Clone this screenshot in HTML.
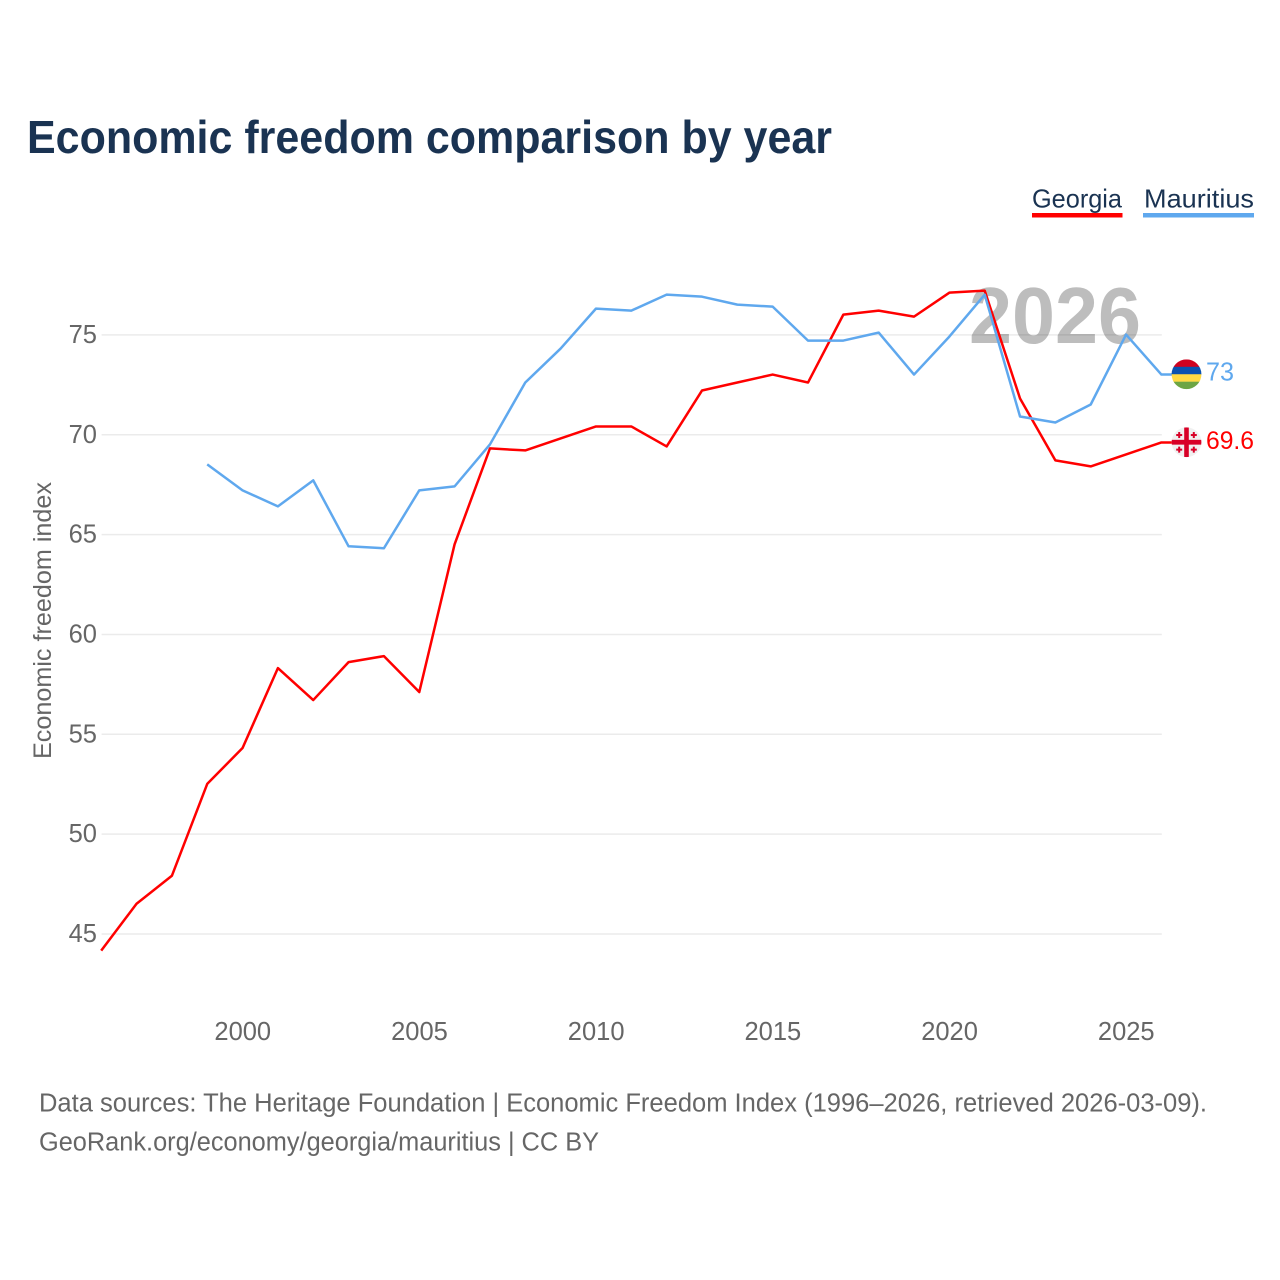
<!DOCTYPE html>
<html lang="en">
<head>
<meta charset="utf-8">
<title>Economic freedom comparison by year</title>
<style>
html,body{margin:0;padding:0;background:#fff;width:1280px;height:1280px;overflow:hidden}
svg{display:block}
text{font-family:"Liberation Sans",sans-serif}
</style>
</head>
<body>
<svg id="chart" xmlns="http://www.w3.org/2000/svg" width="1280" height="1280" viewBox="0 0 1280 1280">
  <rect x="0" y="0" width="1280" height="1280" fill="#ffffff"/>
  <text x="27" y="153" font-size="46.5" font-weight="700" fill="#1a3352" textLength="805" lengthAdjust="spacingAndGlyphs">Economic freedom comparison by year</text>

  <g>
    <g>
      <text x="1032" y="207.5" font-size="26" fill="#1a3352" textLength="90" lengthAdjust="spacingAndGlyphs">Georgia</text>
      <rect x="1032" y="213" width="90.5" height="4.5" fill="#ff0000"/>
    </g>
    <g>
      <text x="1144" y="207.5" font-size="26" fill="#1a3352" textLength="110" lengthAdjust="spacingAndGlyphs">Mauritius</text>
      <rect x="1143" y="213" width="111" height="4.5" fill="#5fa8ee"/>
    </g>
  </g>

  <g id="grid"></g>
  <text x="969" y="343" font-size="80" font-weight="700" fill="#000000" fill-opacity="0.26" textLength="172" lengthAdjust="spacingAndGlyphs">2026</text>
  <g id="yticks"></g>
  <g id="xticks"></g>
  <text transform="translate(51,759) rotate(-90)" x="0" y="0" font-size="25" fill="#666666" textLength="277" lengthAdjust="spacingAndGlyphs">Economic freedom index</text>

  <g id="series"></g>

  <defs>
    <clipPath id="clip-mauritius"><circle id="clip-mauritius-circle" cx="1186.5" cy="0" r="14.9"/></clipPath>
    <clipPath id="clip-georgia"><circle id="clip-georgia-circle" cx="1186.5" cy="0" r="14.9"/></clipPath>
  </defs>

  <g id="flag-mauritius"></g>
  <g id="flag-georgia"></g>

  <text id="value-mauritius" x="1206" y="0" font-size="26" fill="#5fa8ee" textLength="28" lengthAdjust="spacingAndGlyphs"></text>
  <text id="value-georgia" x="1206" y="0" font-size="25" fill="#ff0000" textLength="48" lengthAdjust="spacingAndGlyphs"></text>

  <g>
    <text x="39" y="1111.5" font-size="25.5" fill="#666666" textLength="1168" lengthAdjust="spacingAndGlyphs">Data sources: The Heritage Foundation | Economic Freedom Index (1996–2026, retrieved 2026-03-09).</text>
    <text x="39" y="1150.5" font-size="25.5" fill="#666666" textLength="560" lengthAdjust="spacingAndGlyphs">GeoRank.org/economy/georgia/mauritius | CC BY</text>
  </g>
</svg>
<script>
const years = [1996,1997,1998,1999,2000,2001,2002,2003,2004,2005,2006,2007,2008,2009,2010,2011,2012,2013,2014,2015,2016,2017,2018,2019,2020,2021,2022,2023,2024,2025,2026];
const georgiaValues = [44.15,46.5,47.9,52.5,54.3,58.3,56.7,58.6,58.9,57.1,64.5,69.3,69.2,69.8,70.4,70.4,69.4,72.2,72.6,73.0,72.6,76.0,76.2,75.9,77.1,77.2,71.8,68.7,68.4,69.0,69.6];
const mauritiusValues = [null,null,null,68.5,67.2,66.4,67.7,64.4,64.3,67.2,67.4,69.5,72.6,74.3,76.3,76.2,77.0,76.9,76.5,76.4,74.7,74.7,75.1,73.0,74.9,77.0,70.9,70.6,71.5,75.0,73.0];
const yTickValues = [45,50,55,60,65,70,75];
const xTickValues = [2000,2005,2010,2015,2020,2025];

const NS = 'http://www.w3.org/2000/svg';
const xScale = function (year) { return 101.2 + (year - 1996) * 35.34; };
const yScale = function (value) { return 933.7 - (value - 45) * 19.97; };
const make = function (tag, attrs, parent) {
  const el = document.createElementNS(NS, tag);
  for (const k in attrs) el.setAttribute(k, attrs[k]);
  parent.appendChild(el);
  return el;
};

const grid = document.getElementById('grid');
const yticks = document.getElementById('yticks');
yTickValues.forEach(function (v) {
  const line = make('line', {x1: 101.6, x2: 1161.8, y1: yScale(v) + 0.3, y2: yScale(v) + 0.3, stroke: '#ebebeb', 'stroke-width': 1.5}, grid);
  
  
  const t = make('text', {x: 97, y: yScale(v) + 8.3, 'text-anchor': 'end', 'font-size': 25.5, fill: '#666666'}, yticks);
  
  
  t.textContent = v;
});

const xticks = document.getElementById('xticks');
xTickValues.forEach(function (y) {
  const t = make('text', {x: xScale(y) + 0.2, y: 1040, 'text-anchor': 'middle', 'font-size': 25.5, fill: '#666666'}, xticks);
  
  
  t.textContent = y;
});

const series = document.getElementById('series');
const drawSeries = function (values, color, name) {
  let d = '';
  let lastY = 0;
  values.forEach(function (v, i) {
    if (v === null) return;
    lastY = yScale(v);
    d += (d ? 'L' : 'M') + xScale(years[i]).toFixed(2) + ' ' + lastY.toFixed(2);
  });
  d += 'L1172 ' + lastY.toFixed(2);
  const p = make('path', {d: d, fill: 'none', stroke: color, 'stroke-width': 2.5, 'stroke-linejoin': 'round'}, series);
  
  
  return lastY;
};
const yG = drawSeries(georgiaValues, '#ff0000', 'line-georgia');
const yM = drawSeries(mauritiusValues, '#5fa8ee', 'line-mauritius');

document.getElementById('clip-mauritius-circle').setAttribute('cy', yM - 0.3);
document.getElementById('clip-georgia-circle').setAttribute('cy', yG - 0.2);

const cx = 1186.5;
const flagM = document.getElementById('flag-mauritius');
flagM.setAttribute('clip-path', 'url(#clip-mauritius)');
['#d0021f', '#0a52b0', '#ffda44', '#6da544'].forEach(function (c, i) {
  const s = make('rect', {x: cx - 15, y: yM - 15.2 + i * 7.45, width: 30, height: 7.7, fill: c}, flagM);
  
  
});

const flagG = document.getElementById('flag-georgia');
flagG.setAttribute('clip-path', 'url(#clip-georgia)');
const bg = make('rect', {x: cx - 15, y: yG - 15.2, width: 30, height: 30, fill: '#f0f0f0'}, flagG);


const crossParts = [[cx - 2.3, yG - 15.2, 4.6, 30], [cx - 15, yG - 2.6, 30, 4.8]];
[[-7.3, -7.4], [7.3, -7.4], [-7.3, 7.2], [7.3, 7.2]].forEach(function (o) {
  crossParts.push([cx + o[0] - 1, yG + o[1] - 3, 2, 6]);
  crossParts.push([cx + o[0] - 3, yG + o[1] - 1, 6, 2]);
});
crossParts.forEach(function (r) {
  const c = make('rect', {x: r[0], y: r[1], width: r[2], height: r[3], fill: '#d80027'}, flagG);
  
  
});

const vM = document.getElementById('value-mauritius');
vM.setAttribute('y', yM + 5.8);
vM.textContent = mauritiusValues[mauritiusValues.length - 1];
const vG = document.getElementById('value-georgia');
vG.setAttribute('y', yG + 6.8);
vG.textContent = georgiaValues[georgiaValues.length - 1];
</script>
</body>
</html>
